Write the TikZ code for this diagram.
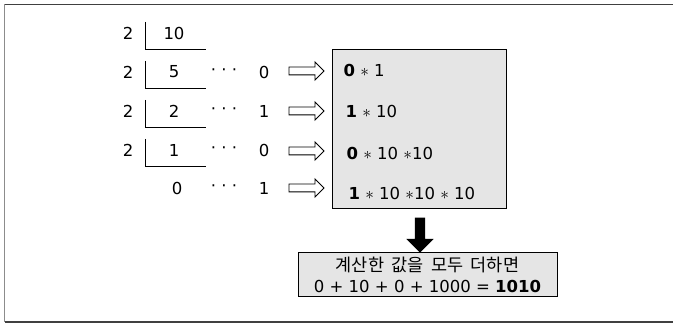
\documentclass[tikz,border=0pt]{standalone}
\usepackage{fontspec}
\setmainfont{DejaVu Sans}
\newfontfamily\kor[WordSpace=1.9]{Noto Sans CJK KR}
\usetikzlibrary{shapes.arrows}

\begin{document}
\begin{tikzpicture}[x=1pt,y=-1pt,font=\fontsize{16.5}{21.5}\selectfont,
    hollow/.style={single arrow,draw,line width=0.9pt,minimum height=35pt,inner sep=3.5pt,single arrow head extend=5pt},
    sumbox/.style={draw,line width=1pt,fill=black!10}]
              \useasboundingbox (0,0) rectangle (673,323);
              \draw[black!75,line width=1.3pt] (673,4.5) -- (4.5,4.5);
              \draw[black!45,line width=1.3pt] (4.5,4.5) -- (4.5,322);
              \draw[black!75,line width=1.3pt] (4.5,322) -- (673,322);
              % division by 2
              \node (d1) at (128,33) {2};
              \node (q1) at (174,33) {10};
              \draw[line width=0.9pt] (145,22) |- (206,49);
              \node (d2) at (128,72) {2};
              \node (q2) at (174,72) {5};
              \draw[line width=0.9pt] (145,61) |- (206,88);
              \node (d3) at (128,111) {2};
              \node (q3) at (174,111) {2};
              \draw[line width=0.9pt] (145,100) |- (206,127);
              \node (d4) at (128,150) {2};
              \node (q4) at (174,150) {1};
              \draw[line width=0.9pt] (145,139) |- (206,166);
              \node (q5) at (177,188) {0};
              % remainders
              \node (p2) at (224,72) {· · ·};
              \node (p3) at (224,111) {· · ·};
              \node (p4) at (224,150) {· · ·};
              \node (p5) at (224,188) {· · ·};
              \node (r2) at (264,72) {0};
              \node (r3) at (264,111) {1};
              \node (r4) at (264,150) {0};
              \node (r5) at (264,188) {1};
              \node[hollow] (a2) at (304.5,71) {};
              \node[hollow] (a3) at (304.5,111) {};
              \node[hollow] (a4) at (304.5,151) {};
              \node[hollow] (a5) at (304.5,188) {};
              % products
              \node[sumbox,minimum width=174pt,minimum height=159pt] (calc) at (419,129.5) {};
              \node[anchor=west] (t2) at (340,70) {\textbf{0} $\ast$ 1};
              \node[anchor=west] (t3) at (342,111) {\textbf{1} $\ast$ 10};
              \node[anchor=west] (t4) at (343,153) {\textbf{0} $\ast$ 10 $\ast$10};
              \node[anchor=west] (t5) at (345,193) {\textbf{1} $\ast$ 10 $\ast$10 $\ast$ 10};
              % sum
              \node[single arrow,fill=black,shape border rotate=270,minimum height=35pt,inner sep=5pt,single arrow head extend=8.5pt] (down) at (420,232.5) {};
              \node[sumbox,minimum width=259pt,minimum height=44pt,align=center] (total) at (427.5,275) {{\kor\fontsize{17.5}{21.5}\selectfont 계산한 값을 모두 더하면}\\0 + 10 + 0 + 1000 = \textbf{1010}};
            \end{tikzpicture}
\end{document}
